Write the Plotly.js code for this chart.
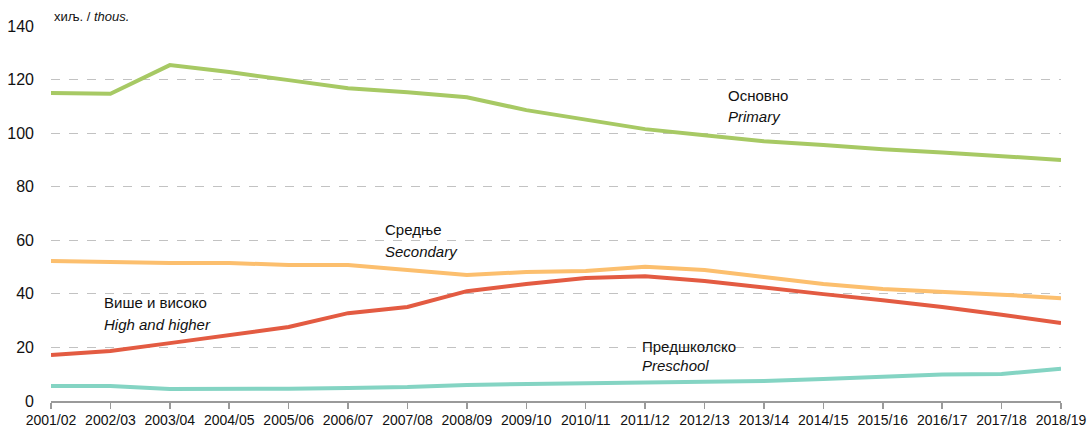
<!DOCTYPE html>
<html><head><meta charset="utf-8">
<script src="https://cdn.plot.ly/plotly-3.0.1.min.js"></script>
<style>body{margin:0;background:#fff}#c{width:1088px;height:430px}</style>
</head><body><div id="c"></div>
<script>
const years = ["2001/02","2002/03","2003/04","2004/05","2005/06","2006/07","2007/08","2008/09","2009/10","2010/11","2011/12","2012/13","2013/14","2014/15","2015/16","2016/17","2017/18","2018/19"];
const primary   = [115.0,114.7,125.4,122.8,119.8,116.8,115.3,113.4,108.6,104.9,101.5,99.2,97.0,95.6,94.0,92.8,91.5,90.0];
const secondary = [52.3,51.9,51.5,51.5,50.8,50.8,48.9,47.0,48.2,48.5,50.1,48.9,46.3,43.7,41.8,40.9,39.7,38.4];
const higher    = [17.2,18.7,21.6,24.6,27.6,32.8,35.1,41.0,43.7,45.9,46.6,44.8,42.2,39.9,37.6,35.1,32.2,29.1];
const preschool = [5.6,5.6,4.5,4.5,4.6,4.9,5.2,6.0,6.3,6.3,6.7,7.1,7.5,8.2,9.0,9.9,10.1,12.0];
const yTicks = [0,20,40,60,80,100,120,140];

const mk = (y, color) => ({x: years, y: y, type: 'scatter', mode: 'lines',
  line: {color: color, width: 4}, hoverinfo: 'skip', showlegend: false});

const data = [
  mk(primary, '#a7c964'),
  mk(secondary, '#fcbf6e'),
  mk(higher, '#e35b42'),
  mk(preschool, '#84d4c3')
];

const F = 'Liberation Sans, Arial, sans-serif';
const txt = (xi, y, t) => ({xref: 'x', yref: 'y', x: xi, y: y, xanchor: 'left', yanchor: 'middle',
  showarrow: false, align: 'left', text: t, font: {family: F, size: 15, color: '#111'}});

const layout = {
  width: 1088, height: 430,
  margin: {l: 51, r: 27, t: 26, b: 29},
  paper_bgcolor: '#fff', plot_bgcolor: '#fff',
  font: {family: F, color: '#111'},
  xaxis: {type: 'category', range: [0, 17], showgrid: false, zeroline: false,
    showline: true, linecolor: '#9a9a9a', linewidth: 1.5, ticks: 'outside', ticklen: 6,
    tickcolor: '#9a9a9a', tickwidth: 1.5, tickfont: {family: F, size: 14, color: '#111'}},
  yaxis: {range: [0, 140], tickvals: yTicks, showgrid: true, gridcolor: '#c2c2c2',
    griddash: 'dash', gridwidth: 1, zeroline: false, showline: false, ticks: '',
    ticklabelstandoff: 16, tickfont: {family: F, size: 16, color: '#111'}},
  annotations: [
    {xref: 'paper', yref: 'paper', x: 0.001, y: 1.0, xanchor: 'left', yanchor: 'bottom',
     showarrow: false, text: 'хиљ. / <i>thous.</i>', font: {family: F, size: 13, color: '#111'}},
    txt(11.366, 114.2, 'Основно'), txt(11.366, 106.2, '<i>Primary</i>'),
    txt(5.583, 64.2, 'Средње'), txt(5.583, 56.0, '<i>Secondary</i>'),
    txt(0.866, 36.6, 'Више и високо'), txt(0.866, 28.7, '<i>High and higher</i>'),
    txt(9.916, 20.2, 'Предшколско'), txt(9.916, 13.1, '<i>Preschool</i>')
  ]
};
Plotly.newPlot('c', data, layout, {displayModeBar: false, staticPlot: true});
</script></body></html>
